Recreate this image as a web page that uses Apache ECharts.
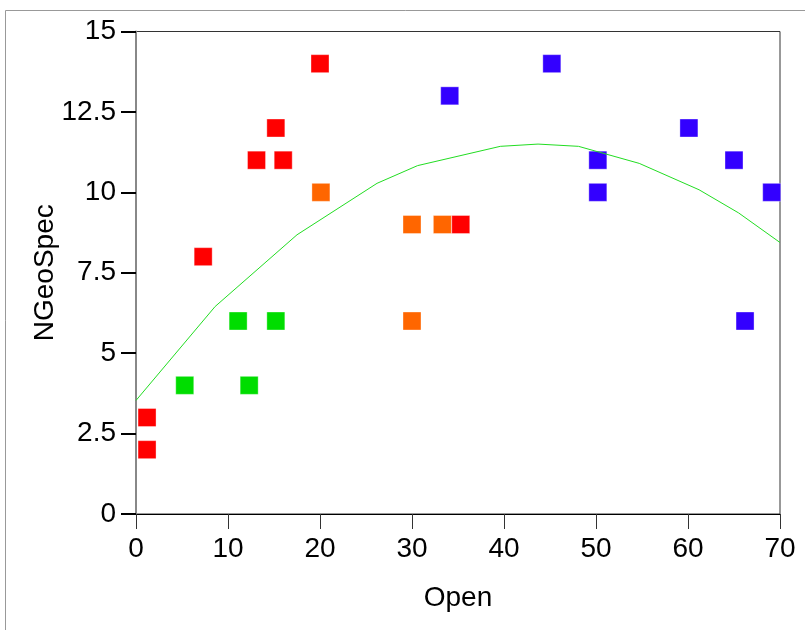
<!DOCTYPE html>
<html>
<head>
<meta charset="utf-8">
<script src="https://cdn.jsdelivr.net/npm/echarts@6/dist/echarts.min.js"></script>
<style>
html,body{margin:0;padding:0;background:#fff;}
#chart{width:805px;height:630px;}
</style>
</head>
<body>
<div id="chart"></div>
<script>
// Data
var redPts = [[1.2,3],[1.2,2],[7.3,8],[13.1,11],[15.2,12],[16,11],[20,14],[35.3,9]];
var greenPts = [[5.3,4],[11.1,6],[12.3,4],[15.2,6]];
var orangePts = [[20.1,10],[30,9],[33.3,9],[30,6]];
var bluePts = [[34.1,13],[45.2,14],[50.2,11],[50.2,10],[60.1,12],[65,11],[66.2,6],[69.1,10]];
var curvePts = [[0,3.53],[8.6,6.45],[17.5,8.68],[26.2,10.28],[30.6,10.83],[39.6,11.43],[43.7,11.5],[48.1,11.43],[54.7,10.9],[61.2,10.08],[65.5,9.36],[70,8.44]];
var xTicks = [0,10,20,30,40,50,60,70];
var yTicks = [0,2.5,5,7.5,10,12.5,15];

var chart = echarts.init(document.getElementById('chart'), null, {renderer:'canvas'});
var FONT = 'Liberation Sans, Arial, sans-serif';
function sq(name, data, color){
  return {
    name:name, type:'scatter', data:data, symbol:'rect', symbolSize:18,
    itemStyle:{color:color, opacity:1, borderColor:'rgba(255,255,255,0.35)', borderWidth:1},
    z:3, silent:true
  };
}
var option = {
  animation:false,
  backgroundColor:'#fff',
  graphic:[{
    type:'rect', shape:{x:5.5,y:10.5,width:820,height:640},
    style:{fill:'none', stroke:'#999', lineWidth:1}, z:-1
  }],
  grid:{left:136, top:31.5, right:25, bottom:116, show:true, borderColor:'#333', borderWidth:1, backgroundColor:'transparent'},
  xAxis:{
    type:'value', min:xTicks[0], max:xTicks[xTicks.length-1], interval:10,
    name:'Open', nameLocation:'middle', nameGap:70, nameMoveOverlap:false,
    nameTextStyle:{fontFamily:FONT, fontSize:28, color:'#000'},
    axisLine:{show:true, onZero:false, lineStyle:{color:'#000', width:1}},
    axisTick:{show:true, inside:false, length:15, lineStyle:{color:'#333', width:1}},
    axisLabel:{fontFamily:FONT, fontSize:28, color:'#000', margin:21},
    splitLine:{show:false}
  },
  yAxis:{
    type:'value', min:yTicks[0], max:yTicks[yTicks.length-1], interval:2.5,
    name:'NGeoSpec', nameLocation:'middle', nameGap:77, nameMoveOverlap:false,
    nameTextStyle:{fontFamily:FONT, fontSize:28, color:'#000'},
    axisLine:{show:true, onZero:false, lineStyle:{color:'#888', width:2}},
    axisTick:{show:true, inside:false, length:15, lineStyle:{color:'#000', width:2}},
    axisLabel:{fontFamily:FONT, fontSize:28, color:'#000', margin:20},
    splitLine:{show:false}
  },
  series:[
    sq('green', greenPts, '#00dd00'),
    sq('orange', orangePts, '#ff6600'),
    sq('red', redPts, '#ff0000'),
    sq('blue', bluePts, '#3300ff'),
    {
      name:'fit', type:'line', data:curvePts, symbol:'none', smooth:false,
      lineStyle:{color:'#22dd22', width:1}, z:4, silent:true
    }
  ]
};
chart.setOption(option);
</script>
</body>
</html>
